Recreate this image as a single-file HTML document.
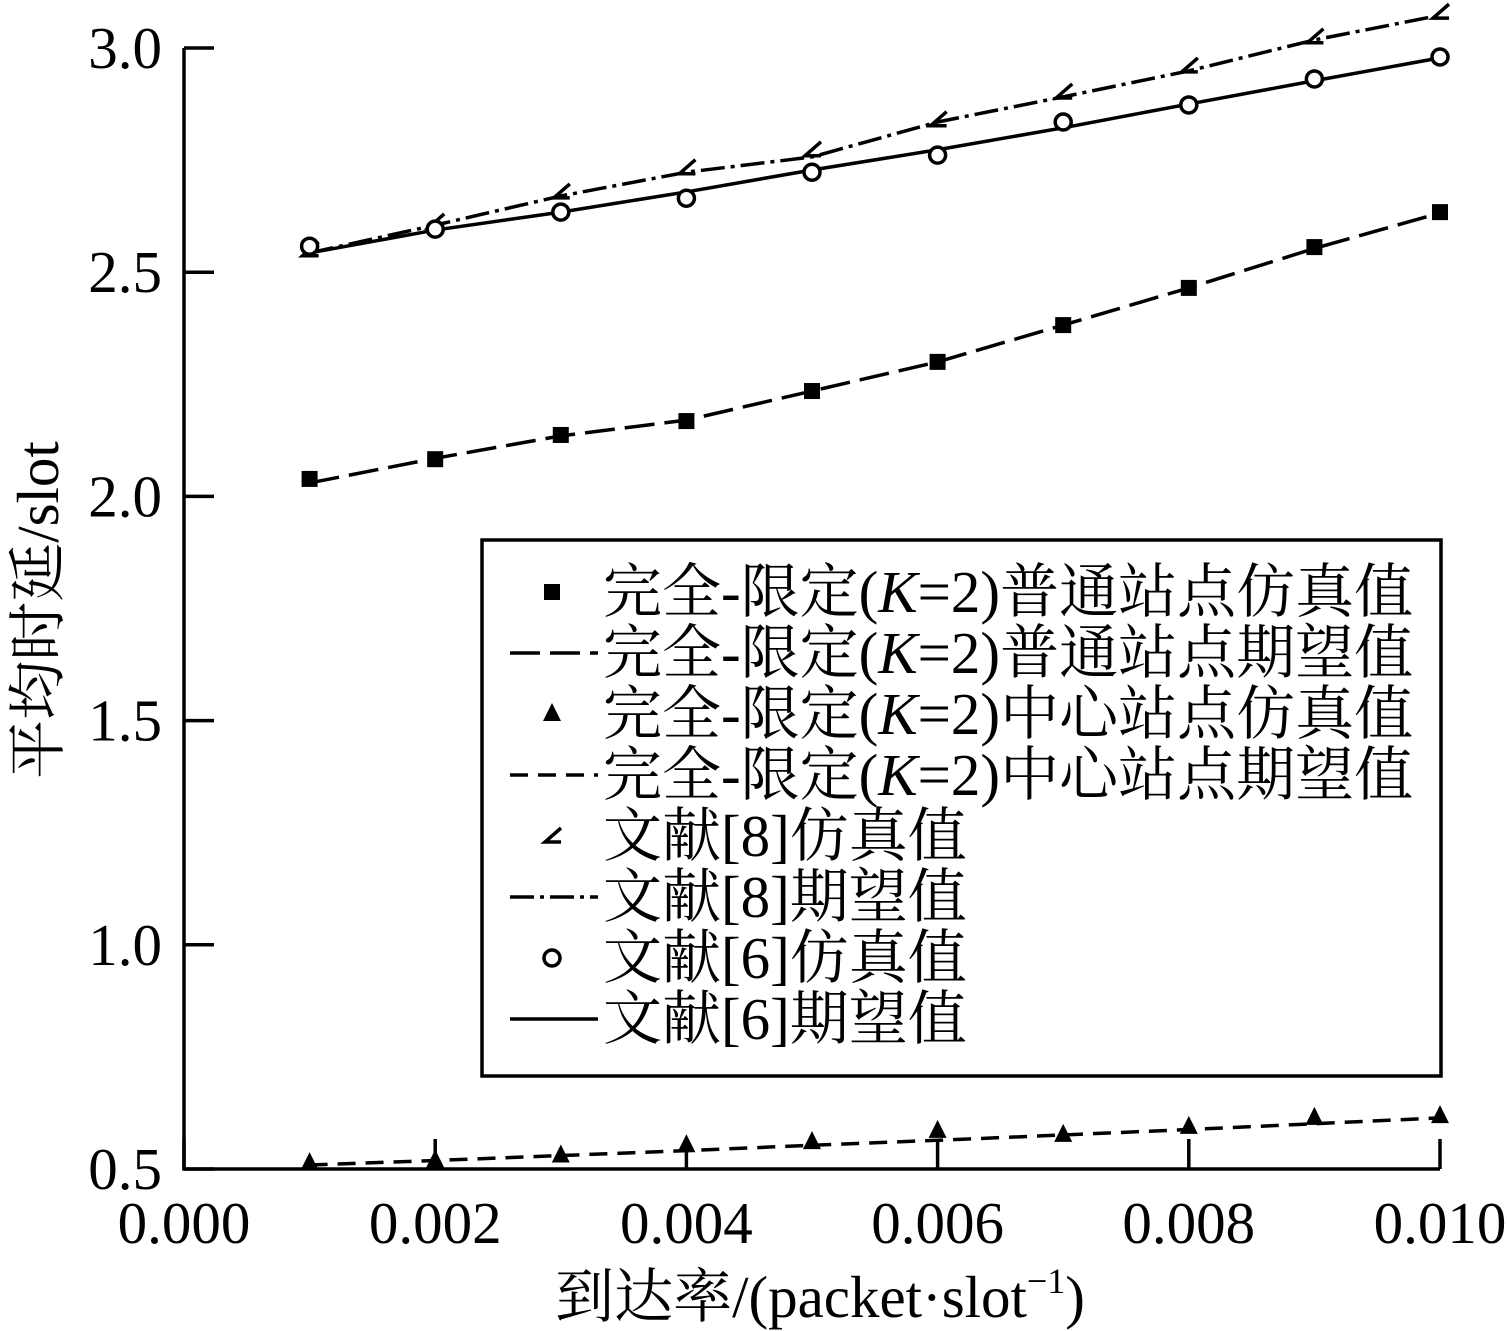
<!DOCTYPE html>
<html><head><meta charset="utf-8"><style>
body{margin:0;background:#fff}
svg{display:block}
text{font-family:"Liberation Serif","Noto Serif CJK SC","Noto Sans CJK SC",serif;fill:#000}
</style></head><body>
<svg id="c" width="1507" height="1331"></svg>
<script>
const xs=[0.001,0.002,0.003,0.004,0.005,0.006,0.007,0.008,0.009,0.010];
const sqSim=[2.039,2.083,2.137,2.168,2.235,2.300,2.382,2.465,2.556,2.634];
const sqExp=[2.030,2.085,2.135,2.170,2.235,2.300,2.382,2.465,2.553,2.632];
const triSim=[0.513,0.519,0.530,0.553,0.560,0.585,0.576,0.594,0.614,0.618];
const triExp=[0.509,0.519,0.530,0.541,0.553,0.564,0.576,0.588,0.601,0.614];
const r8Sim=[2.550,2.612,2.679,2.733,2.773,2.840,2.902,2.960,3.025,3.080];
const r8Exp=[2.543,2.605,2.670,2.723,2.757,2.835,2.891,2.949,3.018,3.073];
const r6Sim=[2.558,2.596,2.634,2.665,2.723,2.761,2.835,2.873,2.931,2.980];
const r6Exp=[2.543,2.594,2.634,2.679,2.728,2.773,2.822,2.875,2.927,2.978];
const xTicks=["0.000","0.002","0.004","0.006","0.008","0.010"];
const yTicks=["0.5","1.0","1.5","2.0","2.5","3.0"];
const NS="http://www.w3.org/2000/svg";
const svg=document.getElementById('c');
const X=v=>184+(v/0.010)*1256;
const Y=v=>1169-(v-0.5)/2.5*1121;
function mk(tag,attrs,parent){const e=document.createElementNS(NS,tag);for(const k in attrs)e.setAttribute(k,attrs[k]);(parent||svg).appendChild(e);return e;}
let ax=mk('path',{d:`M184 48 V1169 H1440`,stroke:'#000','stroke-width':3.5,fill:'none'});


xTicks.forEach(t=>{const v=parseFloat(t);const x=X(v);
 const l=mk('line',{x1:x,x2:x,y1:1169,y2:1139,stroke:'#000','stroke-width':3.5});
 
 
 const tx=mk('text',{x:x,y:1243,'font-size':59,'text-anchor':'middle'});tx.textContent=t;
 
 
});
yTicks.forEach(t=>{const v=parseFloat(t);const y=Y(v);
 const l=mk('line',{x1:184,x2:214,y1:y,y2:y,stroke:'#000','stroke-width':3.5});
 
 
 const tx=mk('text',{x:162,y:y+20,'font-size':59,'text-anchor':'end'});tx.textContent=t;
 
 
});
let xt=mk('text',{x:820,y:1317,'font-size':59,'text-anchor':'middle'});
xt.innerHTML='到达率/(packet·slot<tspan dy="-24" font-size="36">−1</tspan><tspan dy="24">)</tspan>';


let yt=mk('text',{x:0,y:0,'font-size':59,'text-anchor':'middle',transform:'translate(58 610) rotate(-90)'});
yt.textContent='平均时延/slot';


function line(vals,dash,name){const d=vals.map((v,i)=>(i?'L':'M')+X(xs[i])+' '+Y(v)).join(' ');
 const p=mk('path',{d:d,fill:'none',stroke:'#000','stroke-width':3.5,'stroke-dasharray':dash});
 
 }
function marker(type,x,y){let m;
 if(type==='sq')m=mk('rect',{x:x-8,y:y-8,width:16,height:16,fill:'#000'});
 else if(type==='tri')m=mk('path',{d:`M${x} ${y-11} L${x+9} ${y+7} L${x-9} ${y+7}Z`,fill:'#000'});
 else if(type==='circ')m=mk('circle',{cx:x,cy:y,r:8,fill:'#fff',stroke:'#000','stroke-width':3.5});
 else m=mk('path',{d:`M${x+9} ${y-8} L${x-7} ${y+6} L${x+9} ${y+6}`,fill:'none',stroke:'#000','stroke-width':3.5});
 return m;}
function pts(vals,type,name){vals.forEach((v,i)=>{const m=marker(type,X(xs[i]),Y(v));
 
 });}
line(sqExp,'30 10','normal-station-expected-line');
line(triExp,'18 10','center-station-expected-line');
line(r8Exp,'24 6 4 6','ref8-expected-line');
line(r6Exp,'','ref6-expected-line');
pts(sqSim,'sq','normal-station-sim-point');
pts(triSim,'tri','center-station-sim-point');
pts(r8Sim,'ang','ref8-sim-point');
pts(r6Sim,'circ','ref6-sim-point');
const lg=mk('rect',{x:482,y:540,width:959,height:536,fill:'#fff',stroke:'#000','stroke-width':3.5});


const entries=[['sq',null,'完全-限定(<tspan font-style="italic">K</tspan>=2)普通站点仿真值'],
['line','30 10','完全-限定(<tspan font-style="italic">K</tspan>=2)普通站点期望值'],
['tri',null,'完全-限定(<tspan font-style="italic">K</tspan>=2)中心站点仿真值'],
['line','18 10','完全-限定(<tspan font-style="italic">K</tspan>=2)中心站点期望值'],
['ang',null,'文献[8]仿真值'],
['line','24 6 4 6','文献[8]期望值'],
['circ',null,'文献[6]仿真值'],
['line','','文献[6]期望值']];
entries.forEach((e,i)=>{const y=592+i*61;
 if(e[0]==='line'){const l=mk('line',{x1:510,x2:598,y1:y,y2:y,stroke:'#000','stroke-width':3.5,'stroke-dasharray':e[1]});
  
  }
 else{const m=marker(e[0],552,y);
  
  }
 const t=mk('text',{x:603,y:y+20,'font-size':59});t.innerHTML=e[2];
 
 
});
</script>
</body></html>
